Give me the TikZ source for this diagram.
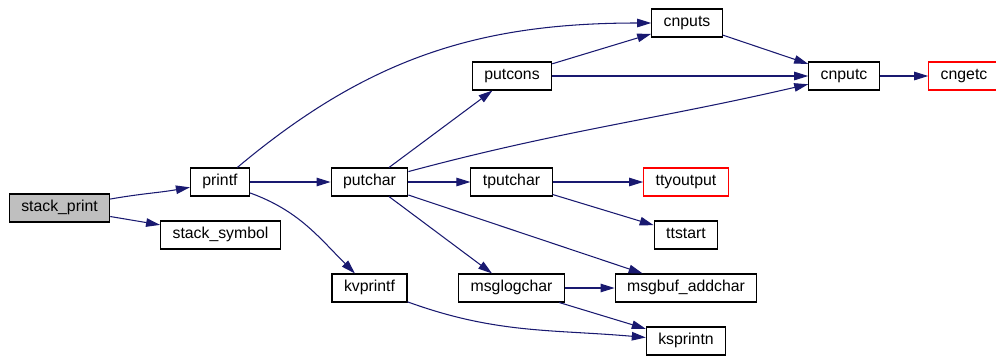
\documentclass[tikz,border=0pt]{standalone}
\usepackage{fontspec}
\setmainfont{Liberation Sans}
\usetikzlibrary{arrows.meta}
\definecolor{edgeblue}{RGB}{25,25,112}
\begin{document}
\begin{tikzpicture}[x=0.02cm,y=0.02cm]
        \tikzstyle{fn}=[draw,line width=0.6pt,minimum height=0.56cm,inner xsep=0.24cm,
            text height=6.5pt,text depth=2pt,font=\fontsize{9}{10}\selectfont]
        \tikzstyle{ext}=[fn,draw=red]
        \tikzstyle{call}=[draw=edgeblue,line width=0.6pt,-{Triangle[length=0.28cm,width=0.17cm]}]
        \useasboundingbox (0,0) rectangle (996,356);
        \node[fn,fill=gray!50] (stackprint) at (59.5,148) {stack\_print};
        \node[fn] (printf) at (220,174) {printf};
        \node[fn] (stacksymbol) at (220.5,121) {stack\_symbol};
        \node[fn] (putchar) at (369.5,174) {putchar};
        \node[fn] (kvprintf) at (369.5,68) {kvprintf};
        \node[fn] (putcons) at (512,280) {putcons};
        \node[fn] (tputchar) at (511.5,174) {tputchar};
        \node[fn] (msglogchar) at (511.5,68) {msglogchar};
        \node[fn] (cnputs) at (687,333) {cnputs};
        \node[ext] (ttyoutput) at (686,174) {ttyoutput};
        \node[fn] (ttstart) at (686,121) {ttstart};
        \node[fn] (msgbuf) at (686,68) {msgbuf\_addchar};
        \node[fn] (ksprintn) at (686,15) {ksprintn};
        \node[fn] (cnputc) at (844,280) {cnputc};
        \node[ext] (cngetc) at (964,280) {cngetc};
        \draw[call] (stackprint) to[out=10,in=190] (printf);
        \draw[call] (stackprint) -- (stacksymbol);
        \draw[call] (printf) to[out=40,in=180] (cnputs);
        \draw[call] (printf) -- (putchar);
        \draw[call] (printf) to[out=-20,in=135] (kvprintf);
        \draw[call] (putchar) -- (putcons);
        \draw[call] (putchar) to[out=15,in=193] (cnputc);
        \draw[call] (putchar) -- (tputchar);
        \draw[call] (putchar) -- (msglogchar);
        \draw[call] (putchar) -- (msgbuf);
        \draw[call] (kvprintf) to[out=-20,in=175] (ksprintn);
        \draw[call] (putcons) -- (cnputs);
        \draw[call] (putcons) -- (cnputc);
        \draw[call] (cnputs) -- (cnputc);
        \draw[call] (cnputc) -- (cngetc);
        \draw[call] (tputchar) -- (ttyoutput);
        \draw[call] (tputchar) -- (ttstart);
        \draw[call] (msglogchar) -- (msgbuf);
        \draw[call] (msglogchar) -- (ksprintn);
\end{tikzpicture}
\end{document}
